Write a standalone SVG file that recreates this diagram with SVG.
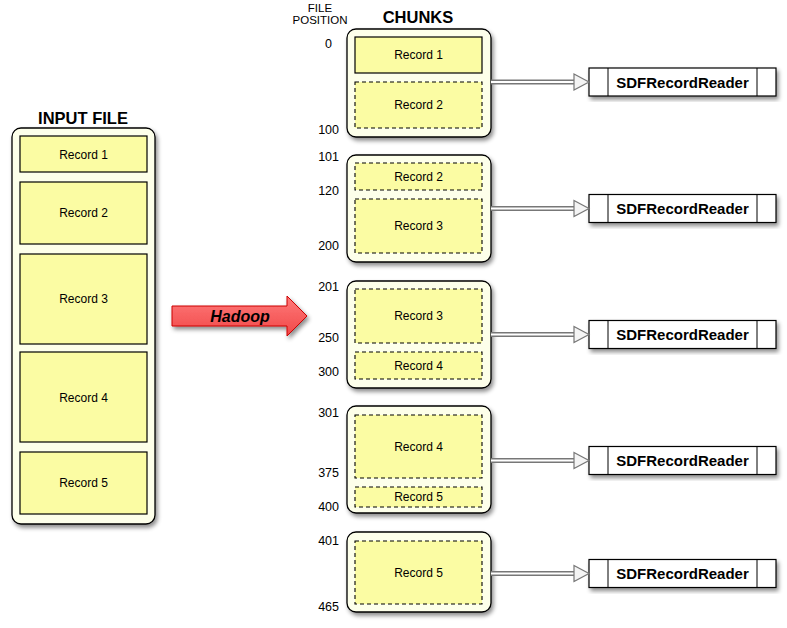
<svg xmlns="http://www.w3.org/2000/svg" width="787" height="628" viewBox="0 0 787 628">
<defs>
<filter id="sh" x="-20%" y="-20%" width="140%" height="140%">
<feDropShadow dx="2" dy="3" stdDeviation="2" flood-color="#000" flood-opacity="0.45"/>
</filter>
<linearGradient id="red" x1="0" y1="0" x2="0" y2="1">
<stop offset="0" stop-color="#ff7a7a"/>
<stop offset="1" stop-color="#f04848"/>
</linearGradient>
</defs>
<style>
.cont{fill:#fdffea;stroke:#000;stroke-width:1.3}
.rec{fill:#fbfca3;stroke:#000;stroke-width:1.2}
.drec{fill:#fbfca3;stroke:#000;stroke-width:1.1;stroke-dasharray:4 3}
.t{font-family:"Liberation Sans",Arial,sans-serif;font-size:12px;fill:#000;text-anchor:middle}
.n{font-family:"Liberation Sans",Arial,sans-serif;font-size:12.5px;fill:#000;text-anchor:end}
.h{font-family:"Liberation Sans",Arial,sans-serif;font-size:16.5px;font-weight:bold;fill:#000;text-anchor:middle}
.b{font-family:"Liberation Sans",Arial,sans-serif;font-size:15px;font-weight:bold;fill:#000;text-anchor:middle}
.box{fill:#fff;stroke:#000;stroke-width:1.2}
.l1{stroke:#777;stroke-width:5}
.l2{stroke:#fff;stroke-width:2.2}
.hd{fill:#f4f4f4;stroke:#777;stroke-width:1.2}
</style>

<g id="input-file">
<text class="h" x="83" y="124">INPUT FILE</text>
<rect class="cont" x="12" y="128" width="143" height="396" rx="9" filter="url(#sh)"/>
<rect class="rec" x="20" y="136" width="127" height="36"/>
<text class="t" x="83.5" y="158.5">Record 1</text>
<rect class="rec" x="20" y="182" width="127" height="62"/>
<text class="t" x="83.5" y="217">Record 2</text>
<rect class="rec" x="20" y="254" width="127" height="90"/>
<text class="t" x="83.5" y="303">Record 3</text>
<rect class="rec" x="20" y="352" width="127" height="90"/>
<text class="t" x="83.5" y="401.5">Record 4</text>
<rect class="rec" x="20" y="452" width="127" height="62"/>
<text class="t" x="83.5" y="487">Record 5</text>
</g>

<g id="hadoop">
<polygon points="172,306 287,306 287,296 307,316 287,336 287,326 172,326" fill="url(#red)" stroke="#cc0000" stroke-width="1" filter="url(#sh)"/>
<text x="240" y="322" font-family="'Liberation Sans',Arial,sans-serif" font-size="16" font-weight="bold" font-style="italic" text-anchor="middle" fill="#000">Hadoop</text>
</g>

<g id="headers">
<text class="t" x="320" y="12" style="font-size:11.5px">FILE</text>
<text class="t" x="320" y="24" style="font-size:11.5px">POSITION</text>
<text class="h" x="418" y="23">CHUNKS</text>
</g>

<g id="chunk1">
<rect class="cont" x="347" y="29" width="144" height="108" rx="9" filter="url(#sh)"/>
<rect class="rec" x="355" y="37" width="127" height="36"/>
<text class="t" x="418.5" y="59">Record 1</text>
<rect class="drec" x="355" y="82" width="127" height="46"/>
<text class="t" x="418.5" y="109">Record 2</text>
<text class="n" x="332" y="48">0</text>
<text class="n" x="339" y="134">100</text>
</g>

<g id="chunk2">
<rect class="cont" x="347" y="155" width="144" height="107" rx="9" filter="url(#sh)"/>
<rect class="drec" x="355" y="163" width="127" height="27"/>
<text class="t" x="418.5" y="181">Record 2</text>
<rect class="drec" x="355" y="199" width="127" height="54"/>
<text class="t" x="418.5" y="230">Record 3</text>
<text class="n" x="339" y="161">101</text>
<text class="n" x="339" y="195">120</text>
<text class="n" x="339" y="250">200</text>
</g>

<g id="chunk3">
<rect class="cont" x="347" y="281" width="144" height="107" rx="9" filter="url(#sh)"/>
<rect class="drec" x="355" y="289" width="127" height="54"/>
<text class="t" x="418.5" y="320">Record 3</text>
<rect class="drec" x="355" y="352" width="127" height="27"/>
<text class="t" x="418.5" y="370">Record 4</text>
<text class="n" x="339" y="291">201</text>
<text class="n" x="339" y="342">250</text>
<text class="n" x="339" y="376">300</text>
</g>

<g id="chunk4">
<rect class="cont" x="347" y="406" width="144" height="107" rx="9" filter="url(#sh)"/>
<rect class="drec" x="355" y="415" width="127" height="63"/>
<text class="t" x="418.5" y="451">Record 4</text>
<rect class="drec" x="355" y="487" width="127" height="20"/>
<text class="t" x="418.5" y="501">Record 5</text>
<text class="n" x="339" y="417">301</text>
<text class="n" x="339" y="477">375</text>
<text class="n" x="339" y="511">400</text>
</g>

<g id="chunk5">
<rect class="cont" x="347" y="532" width="144" height="80" rx="9" filter="url(#sh)"/>
<rect class="drec" x="355" y="541" width="127" height="63"/>
<text class="t" x="418.5" y="577">Record 5</text>
<text class="n" x="339" y="545">401</text>
<text class="n" x="339" y="611">465</text>
</g>

<g id="readers">
<g id="reader1"><rect class="box" x="589" y="68" width="187" height="28" filter="url(#sh)"/><line x1="608" y1="68" x2="608" y2="96" stroke="#000"/><line x1="757" y1="68" x2="757" y2="96" stroke="#000"/><text class="b" x="682.5" y="87.5">SDFRecordReader</text></g>
<g id="reader2"><rect class="box" x="589" y="194.5" width="187" height="28" filter="url(#sh)"/><line x1="608" y1="194.5" x2="608" y2="222.5" stroke="#000"/><line x1="757" y1="194.5" x2="757" y2="222.5" stroke="#000"/><text class="b" x="682.5" y="214">SDFRecordReader</text></g>
<g id="reader3"><rect class="box" x="589" y="320.5" width="187" height="28" filter="url(#sh)"/><line x1="608" y1="320.5" x2="608" y2="348.5" stroke="#000"/><line x1="757" y1="320.5" x2="757" y2="348.5" stroke="#000"/><text class="b" x="682.5" y="340">SDFRecordReader</text></g>
<g id="reader4"><rect class="box" x="589" y="446.5" width="187" height="28" filter="url(#sh)"/><line x1="608" y1="446.5" x2="608" y2="474.5" stroke="#000"/><line x1="757" y1="446.5" x2="757" y2="474.5" stroke="#000"/><text class="b" x="682.5" y="466">SDFRecordReader</text></g>
<g id="reader5"><rect class="box" x="589" y="559.5" width="187" height="28" filter="url(#sh)"/><line x1="608" y1="559.5" x2="608" y2="587.5" stroke="#000"/><line x1="757" y1="559.5" x2="757" y2="587.5" stroke="#000"/><text class="b" x="682.5" y="579">SDFRecordReader</text></g>
</g>

<g id="connectors">
<line class="l1" x1="491" y1="82" x2="575" y2="82"/><line class="l2" x1="491" y1="82" x2="576" y2="82"/><polygon class="hd" points="574,74 589,82 574,90"/>
<line class="l1" x1="491" y1="208.5" x2="575" y2="208.5"/><line class="l2" x1="491" y1="208.5" x2="576" y2="208.5"/><polygon class="hd" points="574,200.5 589,208.5 574,216.5"/>
<line class="l1" x1="491" y1="334.5" x2="575" y2="334.5"/><line class="l2" x1="491" y1="334.5" x2="576" y2="334.5"/><polygon class="hd" points="574,326.5 589,334.5 574,342.5"/>
<line class="l1" x1="491" y1="460.5" x2="575" y2="460.5"/><line class="l2" x1="491" y1="460.5" x2="576" y2="460.5"/><polygon class="hd" points="574,452.5 589,460.5 574,468.5"/>
<line class="l1" x1="491" y1="573.5" x2="575" y2="573.5"/><line class="l2" x1="491" y1="573.5" x2="576" y2="573.5"/><polygon class="hd" points="574,565.5 589,573.5 574,581.5"/>
</g>
</svg>
